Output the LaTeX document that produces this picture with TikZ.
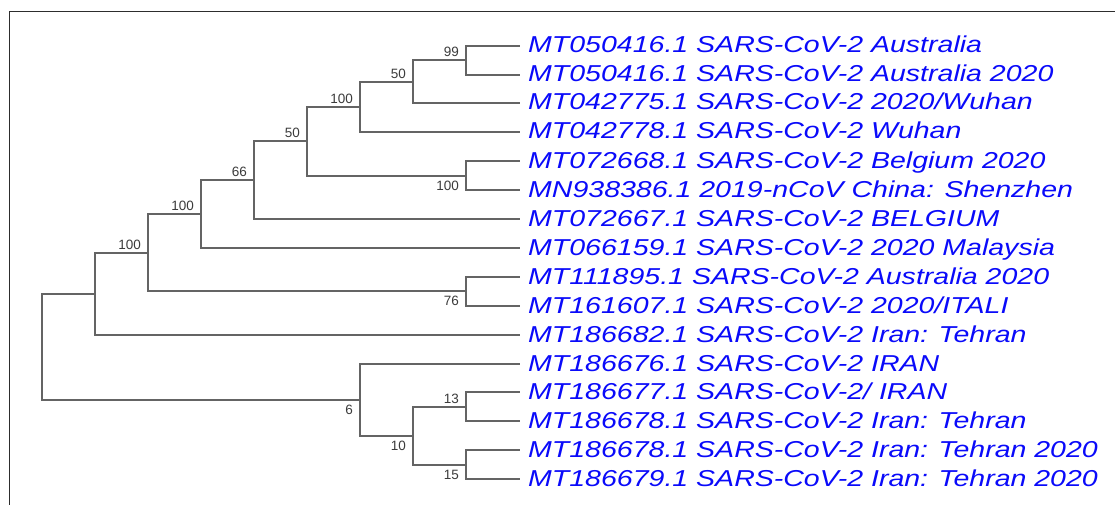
\documentclass[tikz,border=0pt]{standalone}
\usepackage{fontspec}
\newfontfamily\leaffont[FakeStretch=1.24]{Liberation Sans}
\newfontfamily\bsfont{Liberation Sans}
\usetikzlibrary{calc}
\definecolor{leafblue}{RGB}{10,10,250}
\definecolor{treegray}{RGB}{100,100,100}
\definecolor{bsgray}{RGB}{60,60,60}
\definecolor{framegray}{RGB}{45,45,45}
\tikzset{
  branch/.style={draw=treegray, line width=2pt},
  leaflabel/.style={anchor=base west, inner sep=0pt, text=leafblue, font=\leaffont\itshape\fontsize{23}{23}\selectfont},
  bsbase/.style={inner sep=0pt, text=bsgray, font=\bsfont\fontsize{13.5}{13.5}\selectfont},
  bsup/.style={bsbase, anchor=south east, xshift=-7pt, yshift=3pt},
  bsdown/.style={bsbase, anchor=north east, xshift=-7pt, yshift=-5pt},
}
\begin{document}
\begin{tikzpicture}[x=1pt,y=-1pt]
\useasboundingbox (0,0) rectangle (1115,505);
\fill[white] (0,0) rectangle (1115,505);
\draw[framegray, line width=1.5pt] (9.5,505) -- (9.5,11.5) -- (1115,11.5);

% leaves
\foreach \i/\t in {
  1/{MT050416.1 SARS-CoV-2 Australia},
  2/{MT050416.1 SARS-CoV-2 Australia 2020},
  3/{MT042775.1 SARS-CoV-2 2020/Wuhan},
  4/{MT042778.1 SARS-CoV-2 Wuhan},
  5/{MT072668.1 SARS-CoV-2 Belgium 2020},
  6/{MN938386.1 2019-nCoV China: Shenzhen},
  7/{MT072667.1 SARS-CoV-2 BELGIUM},
  8/{MT066159.1 SARS-CoV-2 2020 Malaysia},
  9/{MT111895.1 SARS-CoV-2 Australia 2020},
  10/{MT161607.1 SARS-CoV-2 2020/ITALI},
  11/{MT186682.1 SARS-CoV-2 Iran: Tehran},
  12/{MT186676.1 SARS-CoV-2 IRAN},
  13/{MT186677.1 SARS-CoV-2/ IRAN},
  14/{MT186678.1 SARS-CoV-2 Iran: Tehran},
  15/{MT186678.1 SARS-CoV-2 Iran: Tehran 2020},
  16/{MT186679.1 SARS-CoV-2 Iran: Tehran 2020}}{
  \coordinate (e\i) at (520,{round(45.7+28.9*(\i-1))});
  \node[leaflabel] (t\i) at ($(e\i)+(8,7)$) {\t};
}

% internal nodes
\coordinate (root) at (42,347);
\coordinate (J) at (95,294);
\coordinate (H) at (148,253);
\coordinate (G) at (201,214);
\coordinate (F) at (254,180);
\coordinate (D) at (307,141);
\coordinate (C) at (360,107);
\coordinate (B) at (413,82);
\coordinate (A) at (466,60);
\coordinate (E) at (466,176);
\coordinate (I) at (466,291);
\coordinate (K) at (360,400);
\coordinate (L) at (413,436);
\coordinate (M) at (466,407);
\coordinate (N) at (466,465);

% branches
\draw[branch] (A) |- (e1);  \draw[branch] (A) |- (e2);
\draw[branch] (B) |- (A);   \draw[branch] (B) |- (e3);
\draw[branch] (C) |- (B);   \draw[branch] (C) |- (e4);
\draw[branch] (E) |- (e5);  \draw[branch] (E) |- (e6);
\draw[branch] (D) |- (C);   \draw[branch] (D) |- (E);
\draw[branch] (F) |- (D);   \draw[branch] (F) |- (e7);
\draw[branch] (G) |- (F);   \draw[branch] (G) |- (e8);
\draw[branch] (I) |- (e9);  \draw[branch] (I) |- (e10);
\draw[branch] (H) |- (G);   \draw[branch] (H) |- (I);
\draw[branch] (J) |- (H);   \draw[branch] (J) |- (e11);
\draw[branch] (M) |- (e13); \draw[branch] (M) |- (e14);
\draw[branch] (N) |- (e15); \draw[branch] (N) |- (e16);
\draw[branch] (L) |- (M);   \draw[branch] (L) |- (N);
\draw[branch] (K) |- (e12); \draw[branch] (K) |- (L);
\draw[branch] (root) |- (J); \draw[branch] (root) |- (K);

% bootstrap values
\node[bsup] (bA) at (A) {99};
\node[bsup] (bB) at (B) {50};
\node[bsup] (bC) at (C) {100};
\node[bsup] (bD) at (D) {50};
\node[bsdown] (bE) at (E) {100};
\node[bsup] (bF) at (F) {66};
\node[bsup] (bG) at (G) {100};
\node[bsup] (bH) at (H) {100};
\node[bsdown] (bI) at (I) {76};
\node[bsdown] (bK) at (K) {6};
\node[bsdown] (bL) at (L) {10};
\node[bsup] (bM) at (M) {13};
\node[bsdown] (bN) at (N) {15};
\end{tikzpicture}
\end{document}
